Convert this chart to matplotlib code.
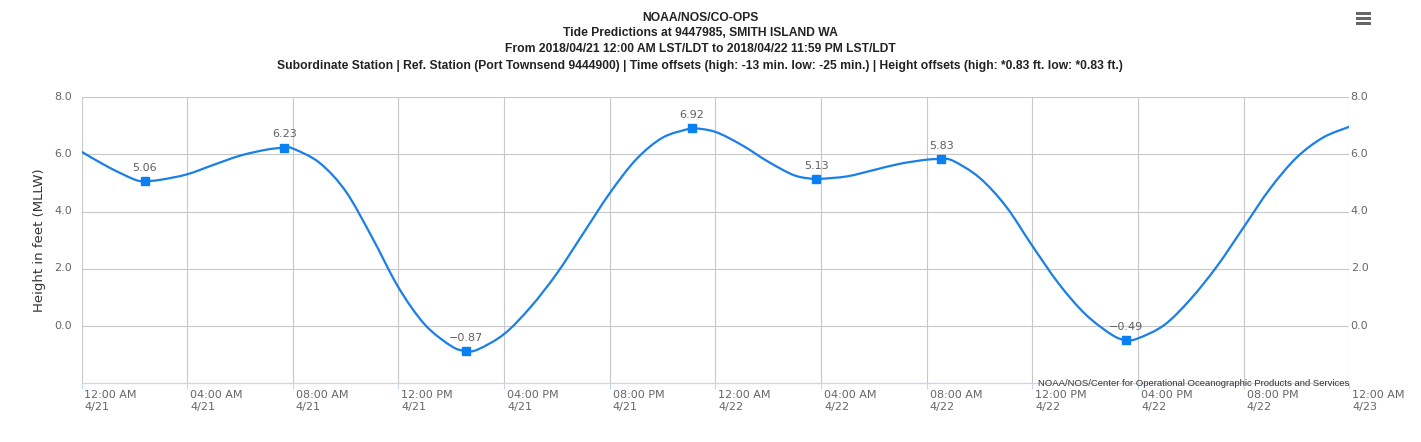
import numpy as np
import matplotlib
matplotlib.use("Agg")
import matplotlib.pyplot as plt
import matplotlib.transforms as mtrans
from matplotlib.patches import Rectangle, PathPatch
from matplotlib.path import Path

# hourly heights (ft, MLLW), hours from 2018-04-21 00:00
hours = list(range(49))
heights = [6.09, 5.56, 5.12, 5.11, 5.30, 5.63, 5.95, 6.16, 6.20, 5.71,
           4.71, 3.10, 1.35, 0.05, -0.70, -0.82, -0.28, 0.66, 1.84, 3.24,
           4.64, 5.82, 6.58, 6.89, 6.78, 6.32, 5.74, 5.26, 5.14, 5.23,
           5.45, 5.67, 5.81, 5.77, 5.18, 4.18, 2.80, 1.48, 0.42, -0.30,
           -0.43, 0.04, 0.95, 2.10, 3.45, 4.80, 5.88, 6.58, 6.96]

# high / low predictions
hilo_hours = [2.40, 7.68, 14.54, 23.12, 27.81, 32.56, 39.53]
hilo_vals = [5.06, 6.23, -0.87, 6.92, 5.13, 5.83, -0.49]

tick_hours = list(range(0, 49, 4))
tick_labels = ["12:00 AM\n4/21", "04:00 AM\n4/21", "08:00 AM\n4/21",
               "12:00 PM\n4/21", "04:00 PM\n4/21", "08:00 PM\n4/21",
               "12:00 AM\n4/22", "04:00 AM\n4/22", "08:00 AM\n4/22",
               "12:00 PM\n4/22", "04:00 PM\n4/22", "08:00 PM\n4/22",
               "12:00 AM\n4/23"]
y_ticks = [0, 2, 4, 6, 8]

titles = ["NOAA/NOS/CO-OPS",
          "Tide Predictions at 9447985, SMITH ISLAND WA",
          "From 2018/04/21 12:00 AM LST/LDT to 2018/04/22 11:59 PM LST/LDT",
          "Subordinate Station | Ref. Station (Port Townsend 9444900) | Time offsets (high: -13 min. low: -25 min.) | Height offsets (high: *0.83 ft. low: *0.83 ft.)"]

# merge the hourly series with the hi/lo points so the line passes through them
xs = np.array(hours + hilo_hours, dtype=float)
ys = np.array(heights + hilo_vals, dtype=float)
order = np.argsort(xs)
xs, ys = xs[order], ys[order]

W, H = 1421, 442
fig = plt.figure(figsize=(W / 100, H / 100), dpi=100)
left, right, top, bottom = 81.5, 1349.3, 97, 383.3
ax = fig.add_axes([left / W, (H - bottom) / H, (right - left) / W, (bottom - top) / H])

grid_c = "#c8c8c8"
ax.set_xlim(0, 48)
ax.set_ylim(-2, 8)
ax.set_xticks(tick_hours)
ax.set_xticklabels(tick_labels, ha="left", fontsize=8, color="#666666", linespacing=1.25)
ax.set_yticks(y_ticks)
ax.set_yticklabels([f"{v:.1f}" for v in y_ticks], fontsize=8, color="#666666")
ax.grid(True, color=grid_c, lw=0.8)
ax.set_axisbelow(True)
for s in ["left", "right", "top"]:
    ax.spines[s].set_visible(False)
ax.spines["bottom"].set_color("#ccd6eb")
ax.spines["bottom"].set_linewidth(0.9)
ax.tick_params(axis="x", length=4, color="#ccd6eb", pad=1)
ax.tick_params(axis="y", length=0, pad=7)
off = mtrans.ScaledTranslation(3 / 100, 0, fig.dpi_scale_trans)
for lab in ax.get_xticklabels():
    lab.set_transform(lab.get_transform() + off)
up = mtrans.ScaledTranslation(0, 1.5 / 100, fig.dpi_scale_trans)
for lab in ax.get_yticklabels():
    lab.set_transform(lab.get_transform() + up)

ax.set_ylabel("Height in feet (MLLW)", fontsize=9.5, color="#333333", labelpad=6)

ax2 = ax.twinx()
ax2.set_ylim(ax.get_ylim())
ax2.set_yticks(y_ticks)
ax2.set_yticklabels([f"{v:.1f}" for v in y_ticks], fontsize=8, color="#666666")
ax2.tick_params(axis="y", length=0, pad=1)
for s in ["left", "right", "top", "bottom"]:
    ax2.spines[s].set_visible(False)
for lab in ax2.get_yticklabels():
    lab.set_transform(lab.get_transform() + up)

# spline drawing of the series (bezier through every point, like a spline chart)
pts = np.column_stack([xs, ys])
verts = [pts[0]]
codes = [Path.MOVETO]
for i in range(len(pts) - 1):
    p0 = pts[i - 1] if i > 0 else pts[i]
    p1, p2 = pts[i], pts[i + 1]
    p3 = pts[i + 2] if i + 2 < len(pts) else pts[i + 1]
    verts += [p1 + (p2 - p0) / 6, p2 - (p3 - p1) / 6, p2]
    codes += [Path.CURVE4] * 3
ax.add_patch(PathPatch(Path(verts, codes), fill=False, edgecolor="#1a7fe6",
                       lw=1.6, zorder=3))
ax.plot(hilo_hours, hilo_vals, "s", color="#0a7ff2", ms=6, zorder=4)
for hx, hv in zip(hilo_hours, hilo_vals):
    ax.annotate(f"{hv:.2f}".replace("-", "\u2212"), (hx, hv), xytext=(0, 6),
                textcoords="offset points", ha="center", va="bottom",
                fontsize=8, color="#606060", zorder=5)

ax.text(1.0, 0.0, "NOAA/NOS/Center for Operational Oceanographic Products and Services",
        transform=ax.transAxes, ha="right", va="center", fontsize=6.8,
        family="Liberation Sans", color="#333333")

ys_title = [18, 33, 49, 66]
for t, yy in zip(titles, ys_title):
    fig.text(700 / W, 1 - yy / H, t, ha="center", va="center", fontsize=8.7,
             fontweight="bold", family="Liberation Sans", color="#222222")

# menu icon
for yy in [13.5, 18.5, 23.5]:
    fig.add_artist(Rectangle((1356 / W, 1 - (yy + 1.5) / H), 15 / W, 3 / H,
                             transform=fig.transFigure, color="#666666", lw=0))

fig.savefig("out.png", dpi=100)
